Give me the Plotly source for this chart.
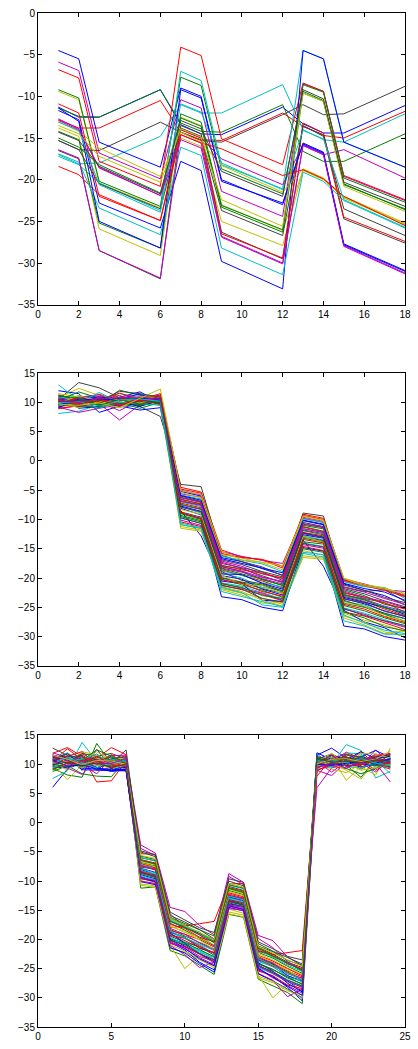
import plotly.graph_objects as go

# ---------------- data ----------------
X_TOP = [1, 2, 3, 6, 7, 8, 9, 12, 13, 14, 15, 18]
TOP_SERIES = [
    [-11.3, -12.5, -12.5, -9.2, -13.4, -14.5, -14.6, -11.3, -13.3, -14.4, -14.4, -11.1],
    [-11.4, -12.4, -12.5, -9.2, -13.2, -14.2, -14.3, -11.0, -16.6, -17.8, -17.8, -14.5],
    [-12.8, -13.8, -13.8, -10.5, -14.3, -15.2, -15.3, -12.0, -13.6, -14.7, -15.0, -11.8],
    [-17.0, -18.1, -18.0, -14.8, -11.0, -12.0, -12.0, -8.6, -14.0, -15.2, -15.5, -12.1],
    [-5.9, -6.9, -16.8, -19.9, -10.4, -11.4, -21.4, -24.4, -8.5, -9.4, -19.6, -22.5],
    [-9.4, -10.4, -20.4, -23.4, -15.0, -16.0, -25.0, -27.9, -18.9, -20.0, -22.2, -25.4],
    [-15.3, -16.4, -16.5, -13.1, -14.3, -15.3, -15.5, -12.2, -11.0, -12.2, -12.1, -8.8],
    [-4.5, -5.5, -15.5, -18.5, -9.0, -10.0, -20.0, -23.0, -15.6, -16.7, -27.7, -30.9],
    [-9.2, -10.2, -20.2, -23.2, -7.7, -8.7, -18.7, -21.7, -9.4, -10.5, -20.6, -23.5],
    [-6.8, -7.8, -17.8, -20.8, -4.1, -5.1, -15.1, -18.2, -8.4, -9.4, -19.5, -22.4],
    [-17.2, -18.2, -20.4, -23.7, -7.0, -8.1, -18.2, -21.1, -4.5, -5.5, -15.5, -18.5],
    [-12.9, -14.0, -18.5, -21.9, -14.0, -15.0, -17.5, -20.6, -15.9, -17.0, -16.4, -19.8],
    [-13.8, -14.8, -25.9, -29.1, -12.5, -13.5, -23.0, -26.1, -18.8, -19.9, -22.1, -25.3],
    [-16.5, -17.5, -28.5, -31.9, -13.5, -14.5, -26.3, -29.5, -13.5, -14.8, -24.7, -27.6],
    [-11.7, -12.8, -22.8, -25.8, -17.8, -18.9, -29.8, -33.1, -4.5, -5.5, -15.5, -18.5],
    [-14.2, -15.2, -25.2, -28.2, -12.1, -13.1, -23.1, -26.0, -8.6, -9.5, -19.8, -22.7],
    [-18.4, -19.4, -21.8, -24.9, -14.0, -15.0, -26.5, -29.4, -13.2, -14.4, -24.5, -27.4],
    [-16.9, -17.9, -23.4, -26.6, -16.1, -17.1, -28.2, -31.4, -19.1, -20.2, -22.5, -25.8],
    [-16.4, -17.4, -28.5, -31.8, -14.6, -15.6, -26.8, -30.0, -15.8, -16.9, -27.9, -31.2],
    [-13.0, -14.2, -16.2, -19.6, -14.3, -15.5, -18.3, -21.5, -18.7, -19.8, -22.0, -25.2],
    [-15.3, -16.4, -20.5, -23.5, -13.8, -14.8, -23.7, -26.7, -13.6, -14.6, -23.5, -26.7],
    [-11.4, -13.0, -25.0, -28.2, -9.2, -10.2, -20.2, -22.8, -15.7, -16.8, -27.8, -31.0],
    [-15.0, -16.1, -18.2, -21.6, -12.6, -13.6, -23.3, -26.3, -9.6, -10.6, -20.5, -23.6],
    [-10.9, -12.0, -22.0, -24.9, -14.6, -15.6, -16.3, -19.5, -18.8, -19.9, -22.0, -25.5],
    [-13.1, -14.1, -20.6, -23.9, -10.9, -11.9, -18.0, -21.2, -14.1, -15.1, -22.4, -25.7],
    [-12.7, -13.9, -18.6, -21.9, -15.2, -16.2, -26.9, -30.1, -15.9, -17.0, -28.0, -31.3],
    [-13.5, -14.5, -17.2, -20.3, -13.9, -14.9, -22.4, -25.6, -9.6, -10.6, -20.8, -23.8],
    [-14.3, -15.3, -18.4, -21.7, -12.9, -13.9, -19.0, -22.0, -9.2, -10.3, -20.3, -23.2],
]

X_MID = list(range(1, 19))
MID_SERIES = [
    [10.2, 9.8, 10.5, 9.9, 10.3, 10.8, -5.2, -6.0, -16.5, -17.2, -18.4, -19.5, -10.1, -10.8, -21.0, -22.1, -23.0, -24.6],
    [9.5, 10.3, 9.9, 10.8, 10.1, 10.4, -6.8, -7.5, -18.0, -18.9, -20.3, -21.2, -11.2, -12.0, -22.4, -23.5, -24.2, -25.8],
    [11.0, 10.6, 11.4, 10.2, 10.9, 11.2, -4.5, -5.3, -15.2, -16.4, -16.9, -18.3, -9.3, -10.0, -20.3, -21.2, -21.8, -23.1],
    [8.1, 8.5, 9.6, 10.0, 9.7, 10.5, -9.8, -10.6, -20.8, -21.4, -22.5, -23.6, -14.0, -14.6, -25.1, -26.0, -27.1, -28.3],
    [9.2, 8.3, 9.0, 9.5, 10.1, 11.3, -5.6, -6.2, -17.1, -18.0, -19.3, -20.1, -9.8, -10.5, -20.6, -21.4, -22.0, -22.3],
    [10.8, 12.4, 11.2, 10.4, 9.8, 10.2, -10.8, -11.6, -21.8, -22.6, -23.4, -24.5, -15.3, -16.1, -26.0, -27.2, -28.0, -29.2],
    [10.5, 13.4, 12.5, 10.8, 9.3, 7.6, -4.0, -4.4, -16.1, -17.2, -18.1, -19.6, -8.9, -9.4, -21.5, -22.3, -22.0, -24.0],
    [12.0, 11.5, 8.3, 9.4, 8.7, 9.1, -8.5, -12.8, -20.5, -21.0, -23.8, -24.0, -13.5, -18.0, -25.5, -27.5, -28.5, -30.2],
    [10.1, 10.5, 9.6, 12.1, 11.2, 10.8, -6.5, -7.4, -17.9, -18.4, -19.6, -20.8, -11.0, -11.6, -22.0, -23.0, -24.5, -25.2],
    [9.8, 9.9, 10.3, 10.7, 10.6, 10.9, -7.2, -8.0, -18.6, -19.6, -20.5, -21.7, -12.2, -12.8, -23.1, -24.0, -25.3, -26.4],
    [13.0, 10.4, 10.0, 9.2, 9.5, 9.9, -7.8, -8.9, -19.2, -20.0, -21.6, -22.1, -12.8, -13.5, -24.0, -24.6, -26.1, -27.0],
    [9.0, 9.4, 9.8, 7.0, 9.6, 10.6, -5.0, -5.8, -15.5, -16.3, -17.0, -17.5, -9.6, -10.3, -20.2, -21.0, -22.0, -22.9],
    [10.7, 10.2, 9.5, 9.2, 10.0, 10.4, -11.5, -12.0, -21.5, -22.3, -23.8, -24.8, -16.5, -16.8, -26.5, -27.5, -29.2, -30.0],
    [9.4, 10.8, 11.0, 10.5, 9.6, 9.8, -6.0, -6.9, -16.9, -17.7, -18.9, -19.8, -10.5, -11.2, -21.2, -22.1, -23.3, -24.2],
    [11.2, 9.0, 9.3, 10.9, 11.8, 10.0, -8.9, -9.8, -23.2, -23.7, -25.0, -25.6, -14.8, -15.4, -28.2, -28.7, -30.0, -30.6],
    [10.0, 9.6, 10.8, 9.9, 9.5, 10.1, -9.0, -10.0, -19.9, -20.7, -21.2, -22.4, -13.2, -13.8, -24.3, -25.0, -26.2, -27.4],
    [9.6, 10.0, 10.2, 10.4, 10.2, 9.6, -10.4, -11.2, -21.2, -22.0, -22.8, -23.9, -14.6, -15.3, -25.8, -26.5, -27.7, -28.8],
    [10.4, 11.1, 10.6, 11.5, 10.8, 11.0, -5.8, -6.5, -16.3, -17.0, -17.6, -18.9, -9.9, -10.5, -20.6, -21.5, -21.6, -23.5],
    [9.9, 9.2, 10.1, 8.6, 10.4, 10.7, -7.5, -8.3, -18.3, -19.0, -20.1, -21.0, -11.8, -12.4, -22.8, -23.6, -24.8, -25.7],
    [11.5, 10.9, 9.8, 10.3, 10.6, 9.4, -11.2, -11.8, -22.0, -22.9, -24.3, -24.2, -16.2, -16.6, -26.8, -28.0, -29.5, -29.0],
    [9.3, 9.7, 10.4, 9.5, 10.8, 10.3, -6.2, -7.0, -17.5, -18.2, -19.0, -20.4, -10.8, -11.4, -21.8, -22.7, -23.9, -24.9],
    [10.6, 10.1, 9.1, 10.1, 9.3, 10.5, -8.1, -9.2, -19.6, -20.2, -21.9, -22.9, -12.6, -13.2, -23.5, -24.4, -25.6, -26.6],
    [10.3, 11.8, 10.7, 9.7, 10.7, 9.8, -9.5, -10.4, -20.2, -21.2, -22.1, -23.3, -13.8, -14.2, -24.7, -25.6, -26.8, -27.8],
    [8.9, 9.5, 10.5, 11.2, 9.9, 10.9, -6.6, -7.3, -17.8, -18.6, -19.2, -20.0, -11.3, -12.1, -22.6, -23.2, -24.3, -25.3],
    [10.9, 10.6, 9.4, 10.2, 11.0, 10.7, -7.0, -7.8, -18.8, -19.5, -20.8, -21.5, -11.5, -12.3, -23.0, -23.8, -24.9, -26.0],
    [9.7, 10.9, 11.3, 9.8, 10.5, 9.7, -10.1, -11.0, -20.9, -21.8, -22.6, -23.8, -14.3, -14.9, -25.3, -26.2, -27.4, -28.4],
    [10.0, 9.1, 10.0, 10.6, 9.9, 11.1, -5.4, -6.3, -16.0, -16.6, -17.4, -18.6, -9.5, -10.2, -20.0, -21.1, -21.7, -22.8],
    [11.3, 10.3, 9.7, 9.4, 10.2, 10.6, -8.7, -9.6, -20.0, -20.8, -21.8, -22.6, -13.0, -13.6, -23.8, -24.9, -26.0, -26.9],
    [9.1, 10.6, 10.9, 10.7, 11.4, 10.3, -7.7, -8.6, -19.3, -19.4, -20.9, -21.9, -12.3, -13.0, -23.3, -24.2, -25.0, -26.2],
    [10.5, 9.4, 9.2, 9.9, 9.0, 10.0, -9.3, -10.2, -21.0, -21.6, -23.0, -23.5, -15.0, -15.6, -25.8, -26.8, -28.3, -29.0],
    [10.2, 10.7, 10.3, 11.6, 10.5, 11.5, -4.8, -5.5, -15.8, -16.5, -16.8, -18.0, -9.1, -9.8, -20.4, -21.3, -22.1, -23.2],
    [9.5, 9.9, 11.7, 10.0, 9.8, 9.5, -10.6, -11.4, -22.3, -23.2, -24.1, -24.9, -15.8, -16.4, -27.3, -28.2, -29.6, -29.6],
    [10.8, 10.0, 10.9, 9.3, 10.9, 10.2, -6.3, -7.1, -17.3, -18.3, -19.8, -20.6, -10.7, -11.3, -21.6, -22.4, -23.5, -24.5],
    [9.8, 11.2, 10.1, 10.1, 11.0, 10.8, -8.3, -9.1, -19.5, -21.1, -21.3, -22.7, -12.9, -13.9, -24.2, -24.8, -26.5, -27.3],
    [10.6, 9.3, 9.9, 10.9, 10.4, 9.9, -9.7, -10.7, -21.3, -21.9, -23.5, -24.1, -14.1, -14.7, -25.2, -26.4, -27.3, -28.1],
    [9.6, 10.4, 10.6, 10.3, 10.7, 10.6, -5.9, -6.7, -16.7, -17.5, -18.2, -19.1, -10.2, -10.9, -20.9, -21.8, -22.4, -23.8],
    [11.1, 10.8, 9.5, 10.5, 9.7, 10.4, -7.4, -8.2, -18.4, -19.3, -20.2, -21.3, -11.9, -12.6, -22.9, -23.7, -25.1, -25.9],
    [10.3, 9.7, 10.4, 9.6, 10.3, 11.0, -8.8, -9.9, -20.3, -20.9, -22.3, -23.1, -13.4, -14.0, -24.5, -25.3, -26.6, -27.6],
    [9.9, 10.2, 9.0, 10.4, 10.6, 10.2, -10.9, -11.5, -21.6, -22.5, -24.6, -25.0, -15.6, -16.0, -26.3, -27.7, -28.9, -29.5],
    [10.4, 10.0, 10.7, 10.8, 10.9, 10.5, -6.9, -7.6, -18.1, -18.8, -19.9, -20.6, -11.6, -12.2, -22.2, -23.3, -24.0, -25.1],
    [9.7, 9.5, 9.9, 9.1, 10.7, 12.3, -5.1, -5.7, -15.4, -16.9, -17.3, -17.9, -9.4, -10.1, -20.1, -21.3, -21.9, -22.6],
    [10.1, 10.3, 10.2, 11.9, 11.5, 10.9, -7.9, -8.7, -18.9, -20.4, -21.0, -22.2, -12.4, -13.1, -23.6, -24.2, -25.7, -26.5],
]

X_BOT = list(range(1, 25))
BOT_SERIES = [
    [6.1, 9.2, 10.4, 9.1, 8.9, 9.0, -8.9, -9.6, -19.8, -21.1, -22.5, -24.0, -13.5, -14.1, -24.4, -25.7, -27.1, -28.9, 11.6, 12.8, 11.1, 10.4, 11.3, 11.7],
    [9.3, 8.2, 7.8, 13.6, 10.2, 10.5, -11.2, -11.0, -21.9, -22.8, -24.4, -26.0, -15.7, -16.2, -26.8, -27.9, -29.1, -31.0, 10.2, 9.6, 10.8, 9.2, 10.5, 10.9],
    [11.9, 12.9, 11.4, 7.0, 7.2, 10.6, -5.3, -5.4, -18.0, -17.7, -17.3, -16.9, -10.5, -10.4, -21.5, -22.6, -22.3, -21.9, 9.3, 10.5, 12.1, 11.0, 10.4, 9.8],
    [7.6, 8.9, 13.8, 10.5, 11.2, 9.8, -7.2, -7.8, -18.8, -19.9, -20.9, -22.4, -12.8, -13.5, -23.6, -24.7, -26.2, -27.3, 11.8, 10.0, 13.4, 12.4, 7.7, 8.8],
    [10.8, 11.5, 9.0, 12.6, 9.6, 11.3, -3.8, -5.2, -14.5, -15.2, -17.6, -19.2, -8.7, -10.2, -19.3, -20.2, -23.0, -24.5, 6.0, 9.4, 10.1, 10.9, 10.2, 7.0],
    [10.1, 7.4, 9.9, 11.0, 11.4, 8.9, -9.9, -10.5, -21.0, -25.0, -22.6, -23.9, -14.8, -15.5, -26.1, -30.0, -27.6, -28.6, 10.8, 11.2, 7.3, 9.6, 8.2, 12.8],
    [12.8, 11.6, 10.2, 9.4, 10.1, 12.5, -6.0, -6.5, -16.4, -17.5, -19.0, -20.3, -10.9, -11.6, -21.3, -22.5, -23.9, -24.8, 10.6, 10.9, 11.3, 10.2, 11.8, 11.0],
    [11.6, 11.1, 9.1, 9.0, 9.0, 8.9, -8.4, -9.3, -18.7, -19.6, -21.5, -22.3, -13.3, -13.9, -23.5, -24.2, -26.2, -27.1, 10.2, 9.8, 10.0, 9.6, 9.9, 10.3],
    [11.0, 10.4, 11.8, 10.7, 9.5, 10.1, -6.8, -7.4, -17.2, -18.4, -19.8, -21.1, -11.6, -12.3, -22.2, -23.2, -24.6, -25.8, 9.4, 10.6, 9.9, 7.8, 10.9, 11.4],
    [10.5, 12.7, 10.8, 11.1, 12.9, 11.7, -7.6, -7.9, -19.0, -20.2, -21.4, -22.2, -12.2, -12.9, -22.9, -24.1, -25.4, -26.4, 8.0, 11.0, 10.2, 12.2, 10.0, 9.2],
    [9.8, 10.6, 11.4, 9.7, 10.6, 10.3, -9.2, -9.9, -20.1, -20.8, -22.0, -23.4, -14.0, -14.6, -24.8, -25.9, -27.3, -28.1, 10.0, 10.4, 10.9, 11.5, 10.6, 8.5],
    [12.0, 11.2, 10.0, 8.4, 11.1, 9.9, -4.4, -5.6, -15.6, -17.9, -19.2, -21.1, -9.2, -10.6, -19.8, -21.4, -23.8, -25.2, 9.0, 8.1, 10.4, 9.8, 12.5, 10.1],
    [9.5, 9.9, 12.2, 11.6, 9.9, 10.0, -10.5, -10.8, -21.5, -22.2, -23.5, -24.6, -15.3, -15.8, -26.6, -27.4, -28.8, -29.5, 10.3, 9.2, 8.6, 10.1, 9.9, 10.5],
    [11.3, 10.2, 11.9, 11.4, 11.9, 10.9, -6.5, -7.0, -16.9, -18.0, -18.9, -20.0, -11.3, -12.0, -22.0, -22.8, -24.1, -25.2, 10.9, 11.8, 10.6, 10.0, 10.8, 9.5],
    [10.3, 11.9, 10.0, 10.9, 9.3, 9.1, -8.0, -8.9, -20.5, -21.8, -23.9, -25.2, -13.9, -14.3, -25.2, -26.3, -28.2, -30.5, 12.0, 10.9, 9.7, 11.3, 12.4, 11.2],
    [8.8, 9.8, 8.4, 8.0, 7.9, 10.9, -7.4, -8.1, -18.3, -19.4, -20.5, -21.6, -12.5, -13.1, -23.1, -24.3, -25.5, -26.8, 9.8, 10.1, 11.2, 10.6, 11.1, 9.6],
    [10.9, 11.4, 12.2, 9.9, 10.8, 11.5, -9.5, -10.2, -20.6, -21.2, -22.5, -23.5, -14.3, -14.9, -25.4, -26.2, -27.8, -28.4, 10.7, 9.7, 9.3, 10.8, 9.0, 10.6],
    [11.5, 10.0, 9.6, 10.2, 11.6, 9.4, -5.9, -6.6, -16.6, -17.8, -18.7, -20.6, -10.7, -11.3, -21.7, -23.0, -24.4, -25.5, 9.2, 9.6, 12.0, 11.8, 9.4, 10.0],
    [10.2, 9.4, 8.3, 10.8, 10.4, 10.5, -8.6, -9.2, -21.0, -22.6, -24.8, -23.9, -13.1, -13.7, -25.8, -27.0, -29.8, -28.5, 10.5, 8.7, 10.5, 10.2, 11.6, 11.9],
    [9.0, 10.8, 10.6, 12.2, 10.6, 11.2, -6.9, -7.5, -17.6, -18.8, -19.6, -20.9, -11.8, -12.5, -22.4, -23.5, -24.9, -26.0, 11.3, 10.3, 9.0, 7.5, 10.6, 12.4],
    [10.6, 10.5, 11.1, 10.0, 9.8, 9.7, -9.6, -10.0, -19.4, -20.5, -21.2, -22.7, -13.7, -14.4, -24.1, -25.1, -26.6, -27.6, 10.1, 11.5, 10.3, 11.4, 10.5, 10.8],
    [9.6, 9.4, 10.8, 9.5, 8.8, 9.2, -10.1, -10.6, -21.4, -22.3, -24.1, -25.6, -14.5, -15.1, -25.9, -27.1, -28.5, -30.0, 11.0, 11.6, 10.8, 12.2, 11.0, 11.5],
    [11.4, 11.0, 9.3, 10.6, 11.3, 9.5, -5.7, -6.3, -16.2, -17.3, -18.3, -19.4, -10.6, -11.2, -21.1, -22.1, -23.6, -24.4, 10.4, 10.8, 9.3, 8.4, 9.3, 10.7],
    [9.2, 10.2, 9.8, 10.5, 9.6, 10.4, -7.0, -7.7, -18.5, -19.1, -20.0, -21.3, -12.0, -12.7, -22.7, -23.7, -25.0, -26.2, 9.6, 10.0, 11.4, 9.5, 10.8, 10.3],
    [10.9, 12.0, 10.3, 10.1, 9.9, 10.8, -8.2, -8.8, -19.1, -20.4, -21.9, -22.9, -12.9, -13.4, -23.8, -24.6, -26.5, -27.0, 10.9, 9.5, 10.7, 10.4, 9.7, 11.3],
    [9.9, 10.7, 10.6, 9.3, 11.5, 11.6, -10.0, -10.4, -20.3, -21.6, -23.1, -24.3, -14.7, -15.0, -25.0, -26.6, -27.9, -29.2, 8.9, 10.2, 11.7, 10.7, 10.3, 9.4],
    [10.4, 9.0, 11.0, 9.8, 10.3, 9.3, -6.6, -7.2, -17.8, -18.6, -20.1, -21.7, -11.4, -12.1, -22.8, -23.9, -25.2, -26.9, 10.6, 11.9, 10.0, 11.9, 11.8, 11.1],
    [11.1, 11.8, 10.7, 10.8, 10.5, 10.6, -4.8, -5.5, -15.3, -16.6, -18.0, -18.8, -9.6, -10.2, -20.4, -21.6, -22.9, -23.5, 10.3, 10.0, 11.1, 10.9, 11.2, 10.4],
    [11.2, 10.8, 9.4, 9.2, 9.3, 9.5, -7.8, -8.5, -18.9, -20.7, -22.4, -23.8, -12.7, -13.3, -24.0, -25.4, -27.5, -29.0, 10.6, 10.3, 9.8, 10.0, 9.9, 10.9],
    [10.0, 9.6, 10.1, 11.3, 10.8, 10.8, -8.7, -9.4, -19.9, -20.6, -21.7, -23.0, -13.4, -14.0, -24.2, -25.2, -26.4, -27.7, 11.2, 10.1, 10.5, 9.9, 10.7, 10.2],
    [10.7, 10.3, 11.6, 10.1, 11.7, 10.0, -6.3, -6.9, -17.4, -18.1, -19.6, -20.4, -11.1, -11.7, -21.9, -22.6, -24.2, -25.0, 9.0, 9.9, 10.6, 10.7, 11.4, 11.8],
    [9.4, 10.9, 10.9, 11.8, 10.0, 10.9, -9.0, -9.8, -19.6, -20.9, -22.2, -23.1, -13.0, -13.8, -24.6, -25.5, -26.9, -27.9, 10.7, 11.3, 9.6, 9.4, 10.4, 10.6],
    [11.7, 10.5, 11.3, 10.5, 10.7, 9.6, -7.3, -8.0, -18.1, -19.1, -20.6, -21.8, -12.4, -13.0, -23.2, -24.0, -25.9, -26.6, 9.9, 11.0, 11.8, 11.1, 10.9, 10.8],
    [10.2, 10.5, 9.4, 10.4, 9.1, 10.4, -10.7, -11.1, -20.9, -22.0, -23.3, -24.9, -15.6, -16.1, -26.3, -27.2, -28.6, -30.1, 9.7, 10.5, 10.3, 9.0, 9.5, 9.9],
    [9.7, 11.3, 11.5, 9.0, 11.0, 11.3, -5.0, -5.8, -15.9, -17.0, -18.3, -19.9, -10.0, -10.8, -20.7, -22.0, -23.1, -24.2, 11.4, 10.7, 10.9, 10.8, 10.1, 11.7],
    [10.8, 9.7, 9.9, 9.3, 9.1, 9.2, -9.3, -10.1, -20.0, -21.5, -23.3, -24.5, -14.2, -14.8, -24.9, -26.4, -28.0, -29.6, 10.0, 9.9, 10.2, 10.5, 10.2, 11.0],
    [9.1, 10.3, 10.7, 12.5, 11.4, 10.2, -6.4, -7.1, -16.8, -17.9, -19.2, -20.5, -11.2, -11.9, -21.5, -22.9, -24.0, -25.4, 10.9, 10.5, 11.6, 11.3, 9.8, 9.7],
    [11.4, 10.1, 10.6, 11.4, 10.0, 9.7, -8.3, -9.0, -19.3, -19.8, -21.1, -22.4, -13.2, -13.7, -23.4, -24.5, -25.7, -27.0, 10.2, 11.6, 9.7, 10.0, 10.7, 10.1],
    [10.1, 11.2, 10.2, 9.4, 10.9, 10.5, -7.9, -8.6, -18.6, -19.7, -20.8, -21.9, -12.6, -13.2, -23.3, -24.4, -25.8, -26.9, 10.4, 10.8, 10.3, 11.0, 10.2, 9.9],
    [10.5, 9.8, 10.5, 10.1, 10.2, 11.0, -9.4, -9.9, -20.7, -21.3, -22.9, -23.7, -14.1, -14.5, -24.6, -25.8, -27.2, -28.2, 9.5, 10.2, 9.4, 10.3, 8.7, 10.9],
    [11.6, 10.9, 10.0, 10.7, 10.6, 10.0, -5.6, -6.1, -16.4, -17.6, -18.9, -20.0, -10.4, -11.0, -21.2, -22.3, -23.4, -24.6, 10.1, 10.9, 11.0, 10.5, 10.9, 12.2],
    [10.0, 10.4, 9.7, 10.3, 9.4, 10.1, -8.5, -9.1, -20.2, -20.9, -22.4, -23.5, -13.5, -14.1, -24.5, -25.5, -27.0, -28.0, 11.1, 10.4, 10.6, 10.3, 10.8, 10.5],
]

X_RANGE_TOP = [0, 18]
X_RANGE_BOT = [0, 25]
Y_RANGE_TOP = [-35, 0]
Y_RANGE_LOW = [-35, 15]

# MATLAB classic colour order
COLORS = ['#0000FF', '#008000', '#FF0000', '#00BFBF', '#BF00BF', '#BFBF00', '#404040']

fig = go.Figure()


def add_lines(xs, series, xa, ya):
    for i, row in enumerate(series):
        fig.add_trace(go.Scatter(
            x=xs, y=row, mode='lines',
            line=dict(color=COLORS[i % len(COLORS)], width=1),
            xaxis=xa, yaxis=ya, showlegend=False, hoverinfo='skip'))


add_lines(X_TOP, TOP_SERIES, 'x', 'y')
add_lines(X_MID, MID_SERIES, 'x2', 'y2')
add_lines(X_BOT, BOT_SERIES, 'x3', 'y3')

FONT = dict(family='Liberation Sans, Arial, sans-serif', size=10, color='black')
base = dict(showline=True, linecolor='black', linewidth=1, mirror='ticks',
            ticks='inside', ticklen=4, tickcolor='black', tickwidth=1,
            showgrid=False, zeroline=False, tickfont=FONT)

H = 1049
top_px, bot_px = 12, 1034
span = bot_px - top_px


def dom(t, b):
    return [(bot_px - b) / span, (bot_px - t) / span]


fig.update_layout(
    width=418, height=H,
    margin=dict(l=38, r=7, t=top_px, b=H - bot_px),
    paper_bgcolor='white', plot_bgcolor='white',
    xaxis=dict(base, range=X_RANGE_TOP, dtick=2, tick0=0, anchor='y', domain=[0, 1]),
    yaxis=dict(base, range=Y_RANGE_TOP, dtick=5, anchor='x', domain=dom(12, 306)),
    xaxis2=dict(base, range=X_RANGE_TOP, dtick=2, tick0=0, anchor='y2', domain=[0, 1]),
    yaxis2=dict(base, range=Y_RANGE_LOW, dtick=5, anchor='x2', domain=dom(375, 670)),
    xaxis3=dict(base, range=X_RANGE_BOT, dtick=5, tick0=0, anchor='y3', domain=[0, 1]),
    yaxis3=dict(base, range=Y_RANGE_LOW, dtick=5, anchor='x3', domain=dom(740, 1034)),
)

fig.write_html('out.html')
